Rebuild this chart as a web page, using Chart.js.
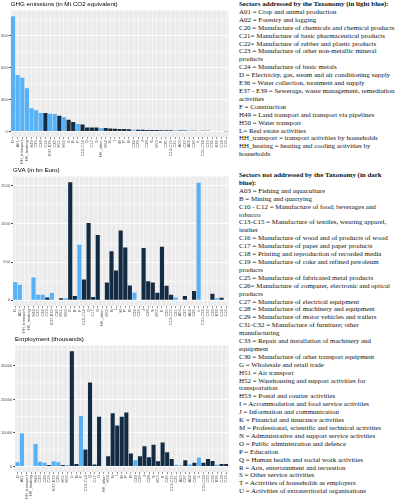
<!DOCTYPE html>
<html>
<head>
<meta charset="utf-8">
<script src="https://cdn.jsdelivr.net/npm/chart.js@4.4.0/dist/chart.umd.min.js"></script>
<style>
  body { margin: 0; width: 400px; height: 500px; background: #fff; position: relative; overflow: hidden; }
  canvas { position: absolute; left: 0; }
  .notes { position: absolute; left: 239px; width: 161px; font-family: "Liberation Serif", serif; font-size: 6.95px; line-height: 7.9px; color: #111; white-space: nowrap; }
  .notes b { font-weight: bold; }
</style>
</head>
<body>
<canvas id="ghgChart" width="232" height="165" style="top:0px"></canvas>
<canvas id="gvaChart" width="232" height="168" style="top:166px"></canvas>
<canvas id="empChart" width="232" height="165" style="top:335px"></canvas>

<div class="notes" style="top:1px">
<b>Sectors addressed by the Taxonomy (in light blue):</b><br>
A01 = Crop and animal production<br>
A02 = Forestry and logging<br>
C20 = Manufacture of chemicals and chemical products<br>
C21= Manufacture of basic pharmaceutical products<br>
C22= Manufacture of rubber and plastic products<br>
C23 = Manufacture of other non-metallic mineral<br>
products<br>
C24 = Manufacture of basic metals<br>
D = Electricity, gas, steam and air conditioning supply<br>
E36 = Water collection, treatment and supply<br>
E37 - E39 = Sewerage, waste management, remediation<br>
activities<br>
F = Construction<br>
H49 = Land transport and transport via pipelines<br>
H50 = Water transport<br>
L= Real estate activities<br>
HH_transport = transport activities by households<br>
HH_heating = heating and cooling activities by<br>
households
</div>

<div class="notes" style="top:172px">
<b>Sectors not addressed by the Taxonomy (in dark</b><br>
<b>blue):</b><br>
A03 = Fishing and aquaculture<br>
B = Mining and quarrying<br>
C10 - C12 = Manufacture of food; beverages and<br>
tobacco<br>
C13-C15 = Manufacture of textiles, wearing apparel,<br>
leather<br>
C16 = Manufacture of wood and of products of wood<br>
C17 = Manufacture of paper and paper products<br>
C18 = Printing and reproduction of recorded media<br>
C19 = Manufacture of coke and refined petroleum<br>
products<br>
C25 = Manufacture of fabricated metal products<br>
C26= Manufacture of computer, electronic and optical<br>
products<br>
C27 = Manufacture of electrical equipment<br>
C28 = Manufacture of machinery and equipment<br>
C29 = Manufacture of motor vehicles and trailers<br>
C31-C32 = Manufacture of furniture; other<br>
manufacturing<br>
C33 = Repair and installation of machinery and<br>
equipment<br>
C30 = Manufacture of other transport equipment<br>
G = Wholesale and retail trade<br>
H51 = Air transport<br>
H52 = Warehousing and support activities for<br>
transportation<br>
H53 = Postal and courier activities<br>
I = Accommodation and food service activities<br>
J = Information and communication<br>
K = Financial and insurance activities<br>
M = Professional, scientific and technical activities<br>
N = Administrative and support service activities<br>
O = Public administration and defence<br>
P = Education<br>
Q = Human health and social work activities<br>
R = Arts, entertainment and recreation<br>
S = Other service activities<br>
T = Activities of households as employers<br>
U = Activities of extraterritorial organisations
</div>

<script>
// sectors, ordered by GHG emissions
const categories = ['D', 'A01', 'HH_transport', 'HH_heating', 'H49', 'C23', 'C24', 'C19', 'E37-E39', 'C20',
  'H51', 'H50', 'G', 'B', 'F', 'C10-C12', 'Q', 'C17', 'O', 'HH_other',
  'H52', 'N', 'I', 'M', 'P', 'R', 'C22', 'C29', 'J', 'C28',
  'S', 'H53', 'K', 'C25', 'C13-C15', 'C21', 'A03', 'C27', 'A02', 'C26',
  'L', 'C31-C32', 'C33', 'C30', 'E36', 'C18', 'C16'];

// sectors addressed by the taxonomy (light blue)
const addressed = ['D', 'A01', 'HH_transport', 'HH_heating', 'H49', 'C23', 'C24', 'E37-E39', 'C20',
  'H50', 'F', 'HH_other', 'C22', 'C21', 'A02', 'L', 'E36'];

const ghg = [1080, 530, 503, 405, 218, 199, 174, 173, 165, 164,
  148, 132, 110, 88, 69, 66, 38, 38, 37, 31,
  32, 28, 25, 23, 22, 20, 17, 16, 15, 14,
  14, 13, 12, 12, 11, 10, 9, 9, 8, 7,
  7, 6, 6, 5, 5, 4, 3];

const gva = [241, 205, null, null, 300, 73, 73, 36, 95, null,
  27, 27, 1545, 55, 727, 273, 1014, 45, 855, null,
  232, 641, 391, 914, 691, 195, 100, null, 686, 250,
  232, 100, 700, 191, 73, 36, 9, 55, null, 123,
  1541, null, null, 86, 27, 32, null];

const employment = [1220, 9800, null, null, 6700, 1420, 1120, 400, 1520, 1220,
  400, 400, 34400, 700, 15060, 5090, 25030, 610, 14850, null,
  3050, 15870, 12200, 14850, 16070, 3870, 1830, 3050, 6000, 2750,
  6510, 1530, 7120, 4270, 2240, 510, 200, 1830, 610, 1120,
  2640, 1120, 2240, 1630, 510, 710, 710];

const ghgTicks = [0, 300, 600, 900];
const gvaTicks = [0, 500, 1000, 1500];
const empTicks = [0, 10000, 20000, 30000];

const LIGHT = '#56B1F7';
const DARK = '#132B43';

// grey panel behind the bars
const panelBg = {
  id: 'panelBg',
  beforeDraw(chart) {
    const a = chart.chartArea;
    const c = chart.ctx;
    c.save();
    c.fillStyle = '#EBEBEB';
    c.fillRect(a.left, a.top, a.right - a.left, a.bottom - a.top);
    c.restore();
  }
};

function makeChart(id, title, values, ticks) {
  const top = Math.max(...values.filter(v => v !== null));
  const step = ticks[1] - ticks[0];
  const all = [];
  for (let v = 0; v <= top * 1.05; v += step / 2) all.push(v);

  return new Chart(document.getElementById(id).getContext('2d'), {
    type: 'bar',
    data: {
      labels: categories,
      datasets: [{
        data: values,
        backgroundColor: categories.map(c => addressed.includes(c) ? LIGHT : DARK),
        barPercentage: 0.9,
        categoryPercentage: 1.0
      }]
    },
    plugins: [panelBg],
    options: {
      responsive: false,
      animation: false,
      layout: { padding: { left: 0, right: 2, top: 0, bottom: 0 } },
      plugins: {
        legend: { display: false },
        tooltip: { enabled: false },
        title: {
          display: true,
          text: title,
          align: 'start',
          fullSize: false,
          color: '#000',
          font: { family: 'Liberation Sans', size: 6.2, weight: 'normal' },
          padding: { top: 1, bottom: 2 }
        }
      },
      scales: {
        x: {
          grid: { color: '#FFFFFF', lineWidth: 0.5, offset: false, tickLength: 2, tickColor: '#333' },
          border: { display: false },
          ticks: {
            autoSkip: false,
            maxRotation: 90,
            minRotation: 90,
            padding: 1,
            color: '#4D4D4D',
            font: { family: 'Liberation Sans', size: 4 }
          }
        },
        y: {
          min: -0.05 * top,
          max: 1.05 * top,
          afterBuildTicks: scale => { scale.ticks = all.map(v => ({ value: v })); },
          grid: {
            color: '#FFFFFF',
            lineWidth: ctx => (ctx.tick && ticks.includes(ctx.tick.value)) ? 0.9 : 0.45,
            tickLength: 2,
            tickColor: ctx => (ctx.tick && ticks.includes(ctx.tick.value)) ? '#333' : 'rgba(0,0,0,0)'
          },
          border: { display: false },
          ticks: {
            padding: 1,
            color: '#4D4D4D',
            font: { family: 'Liberation Sans', size: 4 },
            callback: v => ticks.includes(v) ? String(v) : ''
          }
        }
      }
    }
  });
}

makeChart('ghgChart', 'GHG emissions (in Mt CO2 equivalent)', ghg, ghgTicks);
makeChart('gvaChart', 'GVA (in bn Euro)', gva, gvaTicks);
makeChart('empChart', 'Employment (thousands)', employment, empTicks);
</script>
</body>
</html>
